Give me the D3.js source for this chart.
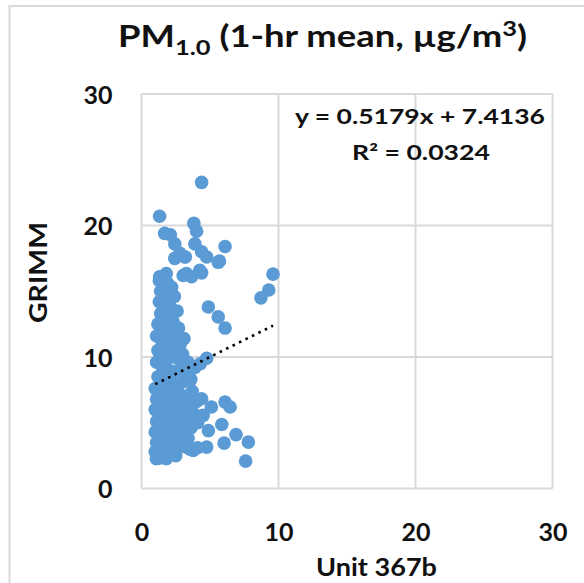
<!DOCTYPE html>
<html>
<head>
<meta charset="utf-8">
<script src="https://cdn.jsdelivr.net/npm/d3@7"></script>
<style>
  html, body { margin: 0; padding: 0; background: #fff; }
  svg { display: block; }
  text { font-family: Lato, "Open Sans", sans-serif; font-weight: bold; fill: #111; }
</style>
</head>
<body>
<svg id="chart" width="584" height="583"></svg>
<script>
// ---- data ----
const titleMain = "PM";
const titleSub = "1.0";
const titleRest = " (1-hr mean, µg/m";
const titleSup = "3";
const xAxisTitle = "Unit 367b";
const yAxisTitle = "GRIMM";
const xTicks = [0, 10, 20, 30];
const yTicks = [0, 10, 20, 30];
const slope = 0.5179;
const intercept = 7.4136;
const equationText = "y = 0.5179x + 7.4136";
const r2Text = "R² = 0.0324";

const unit367b = [
  // scattered upper points
  4.39, 1.32, 3.82, 4.02, 1.69, 2.11, 2.43, 3.90, 6.10, 4.39, 2.79, 4.76, 2.43, 3.16, 5.69,
  1.81, 3.28, 4.26, 1.32, 3.04, 3.65, 4.39, 3.20, 5.60,
  9.60, 9.29, 8.72, 4.88, 5.60, 6.10,
  // upper cluster
  1.3, 1.6, 1.9, 2.2, 1.4, 1.8, 2.4, 1.3, 1.7, 2.1, 2.6, 1.4, 1.9, 2.3, 1.2, 1.6, 2.0, 2.7, 2.5,
  // middle cluster
  1.1, 1.5, 1.9, 2.3, 2.8, 3.1, 1.2, 1.6, 2.1, 2.6, 3.0, 3.4, 1.1, 1.5, 1.9, 2.4, 2.9, 3.3,
  1.2, 1.6, 2.0, 2.5, 3.0, 3.6, 4.76, 4.3, 3.9,
  // lower cluster
  1.0, 1.4, 1.8, 2.2, 2.7, 3.2, 3.7, 1.1, 1.5, 2.0, 2.5, 3.0, 3.5, 4.0,
  1.0, 1.3, 1.8, 2.3, 2.8, 3.3, 3.8, 1.1, 1.6, 2.1, 2.6, 3.1, 3.6, 4.1,
  1.0, 1.4, 1.9, 2.4, 2.9, 3.4, 1.1, 1.6, 2.1, 2.6, 3.1, 3.5, 4.1,
  1.0, 1.5, 2.0, 2.5, 1.08, 1.81, 1.3,
  // scattered lower-right points
  6.10, 6.47, 5.86, 6.90, 7.80, 6.03, 7.60, 4.88, 4.39, 5.10, 4.50, 4.76, 3.77
];
const grimm = [
  23.28, 20.70, 20.16, 19.57, 19.40, 19.30, 18.60, 18.60, 18.40, 18.00, 17.90, 17.60, 17.50, 17.60, 17.30,
  16.35, 16.35, 16.60, 16.10, 16.20, 16.10, 16.40, 17.60, 17.20,
  16.30, 15.10, 14.50, 13.80, 13.05, 12.20,
  15.8, 16.0, 15.6, 15.3, 15.0, 14.8, 14.6, 14.2, 14.0, 13.8, 13.5, 13.3, 13.0, 12.7, 12.5, 12.2, 12.0, 12.2, 11.5,
  11.6, 11.2, 11.0, 10.8, 10.9, 11.4, 10.5, 10.3, 10.0, 9.9, 10.2, 9.6, 9.6, 9.3, 9.1, 8.9, 9.0, 8.7,
  8.5, 8.2, 8.0, 7.9, 8.1, 8.3, 9.9, 9.5, 9.2,
  7.6, 7.3, 7.5, 7.1, 7.3, 7.0, 7.4, 6.8, 6.5, 6.6, 6.3, 6.5, 6.2, 6.6,
  6.0, 5.7, 5.8, 5.5, 5.7, 5.4, 5.7, 5.1, 4.9, 5.0, 4.7, 4.9, 4.6, 5.0,
  4.3, 4.1, 4.2, 3.9, 4.1, 3.8, 3.5, 3.3, 3.4, 3.1, 3.2, 3.0, 3.1,
  2.8, 2.6, 2.7, 2.5, 2.26, 2.26, 2.3,
  6.57, 6.20, 4.87, 4.10, 3.53, 3.45, 2.08, 4.40, 6.83, 6.20, 5.56, 3.15, 2.90
];

// ---- layout ----
const svg = d3.select("#chart");
const plotLeft = 141.5, plotRight = 552.5, plotTop = 94, plotBottom = 488.5;
const x = d3.scaleLinear().domain([0, 30]).range([plotLeft, plotRight]);
const y = d3.scaleLinear().domain([0, 30]).range([plotBottom, plotTop]);
const gridColor = "#d9d9d9";

// horizontally stretch a centred text so that it spans a target width
function fitWidth(sel, cx, target) {
  const w = sel.node().getBBox().width;
  const s = target / w;
  sel.attr("transform", `translate(${cx},0) scale(${s},1) translate(${-cx},0)`);
}

// outer frame lines
svg.append("line").attr("x1", 9.5).attr("x2", 9.5).attr("y1", 5).attr("y2", 583)
  .attr("stroke", "#d9d9d9").attr("stroke-width", 2);
svg.append("line").attr("x1", 9).attr("x2", 584).attr("y1", 6).attr("y2", 6)
  .attr("stroke", "#d9d9d9").attr("stroke-width", 2);

// gridlines
svg.append("g").selectAll("line").data(xTicks).join("line")
  .attr("x1", d => x(d)).attr("x2", d => x(d)).attr("y1", plotTop).attr("y2", plotBottom)
  .attr("stroke", gridColor).attr("stroke-width", 2);
svg.append("g").selectAll("line").data(yTicks).join("line")
  .attr("x1", plotLeft).attr("x2", plotRight).attr("y1", d => y(d)).attr("y2", d => y(d))
  .attr("stroke", gridColor).attr("stroke-width", 2);

// axes (labels only)
const xAxis = d3.axisBottom(x).tickValues(xTicks).tickSize(0).tickPadding(0);
const gx = svg.append("g").attr("transform", `translate(0,${plotBottom})`).call(xAxis);
gx.select(".domain").remove();
gx.selectAll("text").attr("dy", null).attr("y", 52.5)
  .style("font-size", "25px").style("font-family", "Lato").style("font-weight", "bold").attr("fill", "#111");

const yAxis = d3.axisLeft(y).tickValues(yTicks).tickSize(0).tickPadding(0);
const gy = svg.append("g").attr("transform", `translate(112.5,0)`).call(yAxis);
gy.select(".domain").remove();
gy.selectAll("text").attr("dy", "0.36em").attr("x", 0)
  .style("font-size", "25px").style("font-family", "Lato").style("font-weight", "bold").attr("fill", "#111");

// points
svg.append("g").selectAll("circle").data(unit367b.map((d, i) => [d, grimm[i]])).join("circle")
  .attr("cx", d => x(d[0])).attr("cy", d => y(d[1])).attr("r", 6.8)
  .attr("fill", "#5b9bd5");

// trendline
const xMin = d3.min(unit367b), xMax = d3.max(unit367b);
svg.append("line")
  .attr("x1", x(xMin)).attr("y1", y(slope * xMin + intercept))
  .attr("x2", x(xMax)).attr("y2", y(slope * xMax + intercept))
  .attr("stroke", "#000").attr("stroke-width", 2.6)
  .attr("stroke-dasharray", "2.6,4.6");

// equation
const eq = svg.append("text").attr("x", 420).attr("y", 124).attr("text-anchor", "middle")
  .style("font-size", "21px").text(equationText);
fitWidth(eq, 420, 250);
const r2 = svg.append("text").attr("x", 421).attr("y", 160).attr("text-anchor", "middle")
  .style("font-size", "21px").text(r2Text);
fitWidth(r2, 421, 138);

// title
const t = svg.append("text").attr("x", 322.5).attr("y", 47).attr("text-anchor", "middle")
  .style("font-size", "30px");
t.append("tspan").text(titleMain);
t.append("tspan").attr("dy", 8).style("font-size", "21px").text(titleSub);
t.append("tspan").attr("dy", -8).text(titleRest);
t.append("tspan").attr("dy", -11).style("font-size", "21px").text(titleSup);
t.append("tspan").attr("dy", 11).text(")");
fitWidth(t, 322.5, 409);

// axis titles
const xt = svg.append("text").attr("x", 376.5).attr("y", 576).attr("text-anchor", "middle")
  .style("font-size", "25px").text(xAxisTitle);
fitWidth(xt, 376.5, 121);
const ytText = svg.append("text").attr("x", 0).attr("y", 0).attr("text-anchor", "middle")
  .style("font-size", "25px").text(yAxisTitle);
const ytw = ytText.node().getBBox().width;
ytText.attr("transform", `translate(46.5,272.5) rotate(-90) scale(${101 / ytw},1)`);
</script>
</body>
</html>
